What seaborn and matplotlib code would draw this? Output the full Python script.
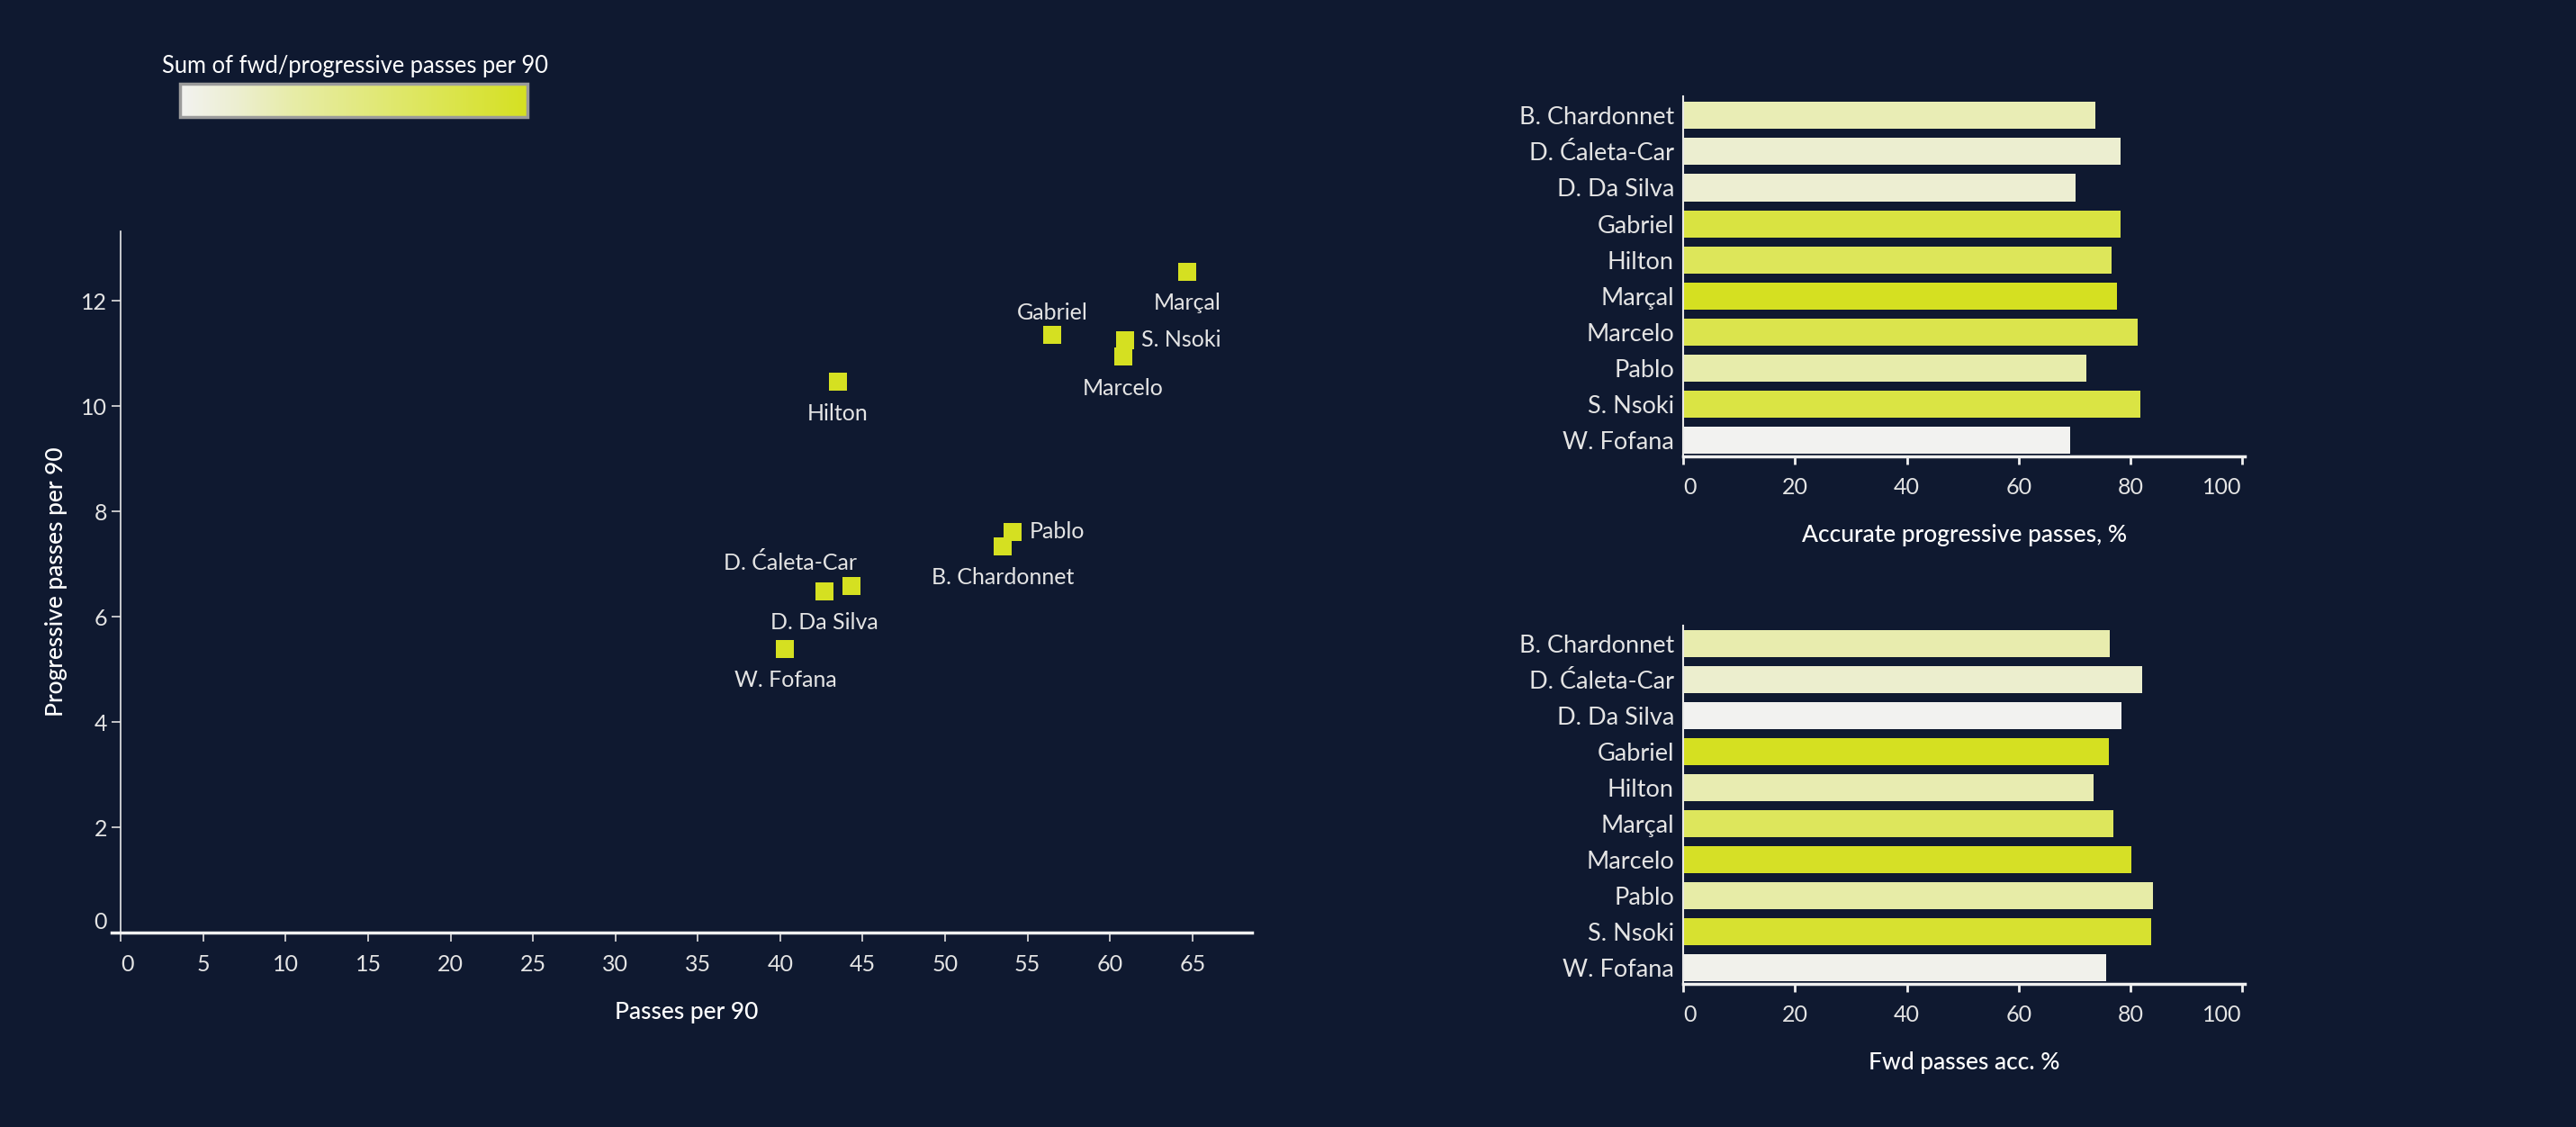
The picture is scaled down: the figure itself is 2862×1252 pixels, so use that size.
import numpy as np
import pandas as pd
import seaborn as sns
import matplotlib.pyplot as plt
from matplotlib.colors import LinearSegmentedColormap, Normalize
from matplotlib.cm import ScalarMappable

# data
players = ["B. Chardonnet", "D. Ćaleta-Car", "D. Da Silva", "Gabriel", "Hilton",
           "Marçal", "Marcelo", "Pablo", "S. Nsoki", "W. Fofana"]
passes_p90 = [53.5, 44.3, 42.7, 56.5, 43.5, 64.7, 60.8, 54.1, 60.9, 40.3]
prog_p90 = [7.34, 6.59, 6.49, 11.36, 10.46, 12.56, 10.94, 7.62, 11.26, 5.39]
acc_prog_pct = [73.8, 78.2, 70.2, 78.2, 76.6, 77.6, 81.4, 72.1, 81.8, 69.2]
fwd_acc_pct = [76.3, 82.1, 78.5, 76.1, 73.5, 77.0, 80.2, 84.0, 83.7, 75.7]
fwd_p90 = [16.4, 15.4, 14.0, 22.0, 16.3, 19.6, 21.8, 16.6, 21.4, 14.2]  # colour of lower bars

df = pd.DataFrame({"player": players, "passes": passes_p90, "prog": prog_p90,
                   "acc_prog": acc_prog_pct, "fwd_acc": fwd_acc_pct, "fwd": fwd_p90})

# where each name sits around its square
label_side = {"Marçal": "below", "Gabriel": "above", "S. Nsoki": "right", "Marcelo": "below",
              "Hilton": "below", "Pablo": "right", "B. Chardonnet": "below",
              "D. Ćaleta-Car": "upleft", "D. Da Silva": "below", "W. Fofana": "below"}
offsets = {"below": ((0, -25), "center"), "above": ((0, 17.5), "center"),
           "right": ((13.5, 0), "left"), "upleft": ((-49, 18.7), "center")}

BG = "#0f1930"
FG = "#e4e4e4"
YEL = "#d5e021"
cmap = LinearSegmentedColormap.from_list(
    "tab", [(0, "#f2f2f0"), (0.17, "#eceecf"), (0.32, "#e7eca8"), (0.7, "#dde65c"), (1, YEL)])

sns.set_style("white")
plt.rcParams['font.family'] = ['Lato', 'DejaVu Sans']
plt.rcParams['axes.facecolor'] = BG
plt.rcParams['figure.facecolor'] = BG

fig = plt.figure(figsize=(28.62, 12.52), dpi=100)
W, H = 2862, 1252


def box(l, t, r, b):
    return [l / W, 1 - b / H, (r - l) / W, (b - t) / H]


# scatter
ax = fig.add_axes(box(134.3, 256.7, 1390.7, 1036))
sns.scatterplot(data=df, x="passes", y="prog", marker="s", s=207, color=YEL,
                linewidth=0, ax=ax)
for _, r in df.iterrows():
    off, ha = offsets[label_side[r["player"]]]
    ax.annotate(r["player"], (r["passes"], r["prog"]), xytext=off, textcoords="offset points",
                ha=ha, va="center", fontsize=18, color=FG)
ax.set_xlim(0, 68.6)
ax.set_ylim(0, 13.33)
ax.set_xticks(range(0, 70, 5))
ax.set_yticks(range(0, 14, 2))
ax.set_xlabel("Passes per 90", fontsize=19, color="white", labelpad=21, fontweight="medium")
ax.set_ylabel("Progressive passes per 90", fontsize=19, color="white", labelpad=10.5,
              fontweight="medium")
ax.tick_params(axis="x", length=7, width=1.2, color="#e0e0e0", pad=10.5, labelsize=18,
               labelcolor=FG, bottom=True)
ax.tick_params(axis="y", length=7, width=1.2, color="#e0e0e0", pad=4, labelsize=18,
               labelcolor=FG, left=True)
for s in ["top", "right"]:
    ax.spines[s].set_visible(False)
ax.spines["bottom"].set_color("#f0f0f0")
ax.spines["bottom"].set_linewidth(2.5)
ax.spines["bottom"].set_bounds(-0.55, 68.6)
ax.spines["left"].set_color("#e8e8e8")
ax.spines["left"].set_linewidth(1.2)
ax.xaxis.get_major_ticks()[0].label1.set_horizontalalignment("left")
ax.yaxis.get_major_ticks()[0].label1.set_verticalalignment("bottom")


def bars(rect, col, cval, title):
    a = fig.add_axes(rect)
    norm = Normalize(min(cval), max(cval))
    pal = {p: cmap(norm(v)) for p, v in zip(players, cval)}
    sns.barplot(data=df, x=col, y="player", hue="player", palette=pal, legend=False,
                width=0.75, saturation=1, linewidth=0, orient="h", ax=a)
    a.set_xlim(0, 100.5)
    a.set_ylim(9.46, -0.52)
    a.set_xticks(range(0, 101, 20))
    a.set_ylabel("")
    a.set_xlabel(title, fontsize=19, color="white", labelpad=21, fontweight="medium")
    a.tick_params(axis="x", length=6.5, width=2, color="#f0f0f0", pad=10, labelsize=18,
                  labelcolor=FG, bottom=True)
    a.tick_params(axis="y", length=0, pad=7.5, labelsize=19.5, labelcolor=FG)
    for s in ["top", "right"]:
        a.spines[s].set_visible(False)
    a.spines["bottom"].set_color("#f0f0f0")
    a.spines["bottom"].set_linewidth(2.5)
    a.spines["left"].set_color("#e8e8e8")
    a.spines["left"].set_linewidth(1.5)
    t = a.xaxis.get_major_ticks()
    t[0].label1.set_horizontalalignment("left")
    t[-1].label1.set_horizontalalignment("right")
    return a


bars(box(1870.4, 107.5, 2494, 507.4), "acc_prog", prog_p90, "Accurate progressive passes, %")
bars(box(1870.4, 694.5, 2494, 1093.2), "fwd_acc", fwd_p90, "Fwd passes acc. %")

# colour legend
cax = fig.add_axes(box(200, 93, 586, 130))
cb = fig.colorbar(ScalarMappable(norm=Normalize(0, 1), cmap=cmap), cax=cax,
                  orientation="horizontal")
cb.set_ticks([])
cb.outline.set_edgecolor("#9a9a9a")
cb.outline.set_linewidth(2.5)
fig.text(394 / W, 1 - 74 / H, "Sum of fwd/progressive passes per 90", ha="center",
         va="center", fontsize=18.4, color="white")

fig.savefig("out.png", dpi=100, facecolor=BG)
